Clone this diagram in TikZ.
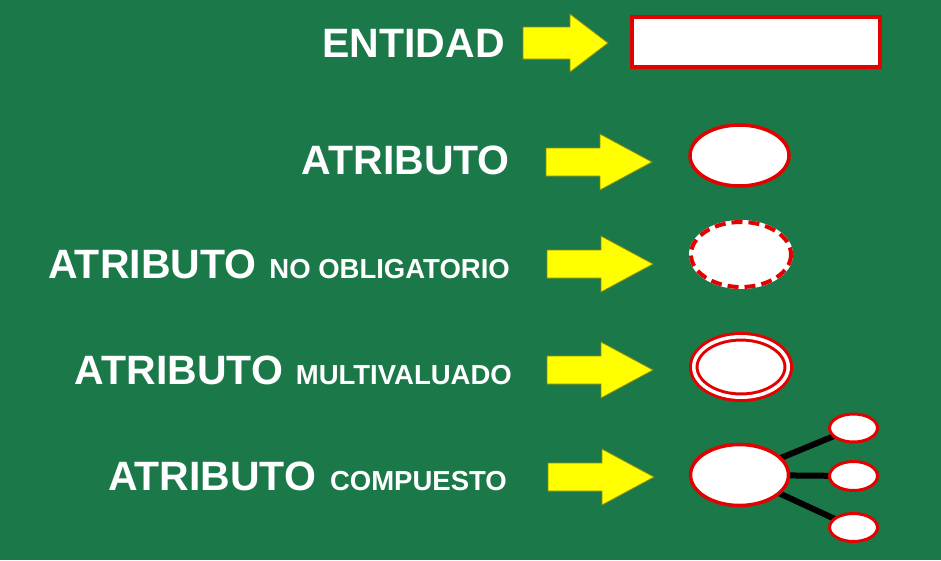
\documentclass[tikz,border=0pt]{standalone}
\usepackage{fontspec}
\setmainfont{Liberation Sans}
\usetikzlibrary{shapes.geometric}

\definecolor{pizarra}{RGB}{27,121,73}
\definecolor{rojo}{RGB}{226,0,0}
\definecolor{amarillo}{RGB}{255,255,0}
\definecolor{oliva}{RGB}{140,140,20}

\pgfdeclarelayer{fondo}
\pgfdeclarelayer{lineas}
\pgfsetlayers{fondo,lineas,main}

\newcommand{\chico}{\fontsize{27.5}{31}\selectfont}
% tip x, tip y, length, head length, half shaft, half head
\newcommand{\flecha}[6]{\filldraw[flechaamarilla] (#1,#2) -- (#1-#4,#2-#6) -- (#1-#4,#2-#5) -- (#1-#3,#2-#5) -- (#1-#3,#2+#5) -- (#1-#4,#2+#5) -- (#1-#4,#2+#6) -- cycle;}

\tikzset{
  titulo/.style={text=white, font=\bfseries\fontsize{41}{46}\selectfont, anchor=base east, inner sep=0pt},
  flechaamarilla/.style={fill=amarillo, draw=oliva, line width=0.8pt, line join=miter},
  atributo/.style={ellipse, draw=rojo, fill=white, line width=3.5pt, inner sep=0pt, minimum width=99pt, minimum height=61pt},
  hijo/.style={ellipse, draw=rojo, fill=white, line width=3pt, inner sep=0pt, minimum width=48pt, minimum height=28pt},
  rama/.style={black, line width=6pt}
}

\begin{document}
\begin{tikzpicture}[x=1pt, y=-1pt]
% Drawing background
\begin{pgfonlayer}{fondo}
\fill[pizarra] (0,0) rectangle (941,560);
\end{pgfonlayer}

% Drawing labels
\node[titulo] (tentidad) at (505,57) {ENTIDAD};
\node[titulo] (tatributo) at (510,174) {ATRIBUTO};
\node[titulo] (topcional) at (510,278) {ATRIBUTO\hspace{13pt}{\chico NO OBLIGATORIO}};
\node[titulo] (tmulti) at (512,384) {ATRIBUTO\hspace{13pt}{\chico MULTIVALUADO}};
\node[titulo] (tcompuesto) at (507,490) {ATRIBUTO\hspace{14pt}{\chico COMPUESTO}};

% Drawing arrows
\flecha{608}{43}{85}{38}{16}{29}
\flecha{652}{162}{106}{52}{14}{28}
\flecha{653}{264}{106}{52}{14}{28}
\flecha{653}{370}{106}{52}{14}{28}
\flecha{654}{477}{106}{52}{14}{28}

% Drawing entity
\node[draw=rojo, fill=white, line width=4.5pt, inner sep=0pt, minimum width=248pt, minimum height=50pt] (entidad) at (756,42) {};

% Drawing simple attribute
\node[atributo] (simple) at (739.5,155.5) {};

% Drawing optional attribute
\node[atributo, draw=white, line width=4pt, minimum width=100pt, minimum height=65pt] (opcional) at (741,254.5) {};
\draw[rojo, line width=4pt, dash pattern=on 11pt off 6pt] (opcional.center) ellipse [x radius=50, y radius=32.5];

% Drawing multivalued attribute
\node[atributo, line width=3pt, double=white, double distance=3.5pt, minimum width=94.5pt, minimum height=60.5pt] (multi) at (741,367) {};

% Drawing composite attribute
\node[atributo, minimum width=98pt] (compuesto) at (739.5,475) {};
\node[hijo] (hijoa) at (853.5,428) {};
\node[hijo, minimum height=29pt] (hijob) at (853.5,476) {};
\node[hijo] (hijoc) at (853.5,527.5) {};
\begin{pgfonlayer}{lineas}
\draw[rama] (compuesto.center) -- (hijoa.center);
\draw[rama] (compuesto.center) -- (hijob.center);
\draw[rama] (compuesto.center) -- (hijoc.center);
\end{pgfonlayer}
\end{tikzpicture}
\end{document}
